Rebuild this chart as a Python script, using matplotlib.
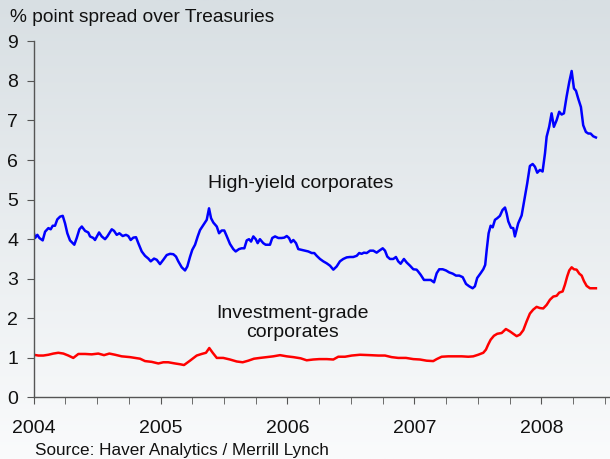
import numpy as np
import matplotlib.pyplot as plt
from matplotlib.ticker import MultipleLocator

plt.rcParams['font.family'] = ['Liberation Sans', 'DejaVu Sans']

base_year = 2004

# high-yield corporates: (years after 2004, % points)
hy_t = [0.000, 0.012, 0.030, 0.046, 0.072, 0.091, 0.117, 0.135, 0.151, 0.169,
        0.187, 0.209, 0.230, 0.248, 0.266, 0.287, 0.321, 0.340, 0.361, 0.380,
        0.406, 0.431, 0.445, 0.471, 0.484, 0.516, 0.537, 0.563, 0.581, 0.616,
        0.634, 0.655, 0.676, 0.702, 0.728, 0.746, 0.765, 0.786, 0.807, 0.825,
        0.852, 0.878, 0.904, 0.923, 0.949, 0.970, 0.996, 1.022, 1.049, 1.075,
        1.101, 1.122, 1.140, 1.167, 1.193, 1.211, 1.232, 1.250, 1.272, 1.293,
        1.311, 1.337, 1.364, 1.382, 1.398, 1.416, 1.443, 1.461, 1.482, 1.502,
        1.521, 1.547, 1.573, 1.592, 1.618, 1.639, 1.660, 1.679, 1.697, 1.713,
        1.731, 1.750, 1.765, 1.783, 1.809, 1.828, 1.862, 1.880, 1.902, 1.928,
        1.954, 1.975, 1.994, 2.012, 2.028, 2.046, 2.067, 2.085, 2.112, 2.138,
        2.164, 2.191, 2.211, 2.230, 2.256, 2.282, 2.309, 2.335, 2.361, 2.387,
        2.413, 2.439, 2.466, 2.492, 2.518, 2.545, 2.565, 2.584, 2.602, 2.624,
        2.650, 2.676, 2.702, 2.723, 2.750, 2.768, 2.786, 2.807, 2.833, 2.854,
        2.872, 2.891, 2.917, 2.939, 2.965, 2.991, 3.017, 3.030, 3.049, 3.075,
        3.101, 3.128, 3.154, 3.175, 3.195, 3.222, 3.248, 3.274, 3.301, 3.327,
        3.353, 3.380, 3.406, 3.431, 3.458, 3.476, 3.494, 3.521, 3.542, 3.557,
        3.569, 3.584, 3.600, 3.616, 3.634, 3.652, 3.673, 3.694, 3.713, 3.726,
        3.739, 3.760, 3.778, 3.791, 3.817, 3.844, 3.870, 3.888, 3.909, 3.931,
        3.949, 3.967, 3.988, 4.009, 4.028, 4.041, 4.061, 4.080, 4.098, 4.120,
        4.140, 4.159, 4.177, 4.198, 4.219, 4.238, 4.256, 4.272, 4.290, 4.311,
        4.329, 4.350, 4.369, 4.387, 4.408, 4.429]
hy_v = [4.19, 4.03, 4.11, 4.03, 3.97, 4.19, 4.28, 4.25, 4.34, 4.34,
        4.50, 4.57, 4.59, 4.40, 4.15, 3.97, 3.86, 4.03, 4.25, 4.32,
        4.21, 4.17, 4.07, 4.03, 3.98, 4.17, 4.07, 4.00, 4.07, 4.25,
        4.21, 4.11, 4.15, 4.08, 4.11, 4.08, 3.98, 4.04, 4.05, 3.90,
        3.69, 3.58, 3.51, 3.44, 3.51, 3.48, 3.37, 3.48, 3.60, 3.63,
        3.62, 3.56, 3.44, 3.29, 3.21, 3.31, 3.55, 3.73, 3.86, 4.07,
        4.23, 4.36, 4.49, 4.78, 4.53, 4.42, 4.32, 4.15, 4.22, 4.22,
        4.08, 3.88, 3.75, 3.69, 3.75, 3.77, 3.77, 3.97, 4.00, 3.94,
        4.07, 4.00, 3.90, 4.00, 3.90, 3.86, 3.86, 4.03, 4.07, 4.03,
        4.03, 4.04, 4.08, 4.03, 3.92, 3.98, 3.90, 3.75, 3.73, 3.71,
        3.69, 3.65, 3.65, 3.58, 3.50, 3.44, 3.39, 3.33, 3.23, 3.31,
        3.44, 3.50, 3.54, 3.55, 3.55, 3.58, 3.65, 3.63, 3.66, 3.65,
        3.71, 3.71, 3.66, 3.71, 3.77, 3.71, 3.56, 3.50, 3.50, 3.55,
        3.44, 3.38, 3.50, 3.41, 3.33, 3.24, 3.23, 3.18, 3.10, 2.97,
        2.97, 2.97, 2.91, 3.14, 3.24, 3.24, 3.21, 3.16, 3.13, 3.08,
        3.08, 3.04, 2.87, 2.81, 2.76, 2.81, 3.02, 3.14, 3.24, 3.35,
        3.73, 4.15, 4.34, 4.30, 4.49, 4.53, 4.59, 4.74, 4.80, 4.65,
        4.45, 4.29, 4.28, 4.07, 4.40, 4.60, 5.08, 5.41, 5.85, 5.90,
        5.83, 5.68, 5.75, 5.71, 6.17, 6.59, 6.84, 7.18, 6.84, 7.01,
        7.22, 7.15, 7.18, 7.60, 7.97, 8.25, 7.81, 7.75, 7.55, 7.34,
        6.88, 6.71, 6.67, 6.67, 6.60, 6.57]

# investment-grade corporates
ig_t = [0.000, 0.038, 0.077, 0.117, 0.156, 0.195, 0.235, 0.274, 0.313, 0.353,
        0.406, 0.458, 0.510, 0.555, 0.597, 0.642, 0.694, 0.760, 0.839, 0.878,
        0.931, 0.983, 1.022, 1.061, 1.114, 1.154, 1.185, 1.232, 1.285, 1.324,
        1.358, 1.384, 1.411, 1.443, 1.494, 1.547, 1.600, 1.647, 1.691, 1.736,
        1.783, 1.836, 1.888, 1.941, 1.994, 2.046, 2.104, 2.151, 2.203, 2.250,
        2.309, 2.361, 2.400, 2.453, 2.506, 2.571, 2.650, 2.715, 2.768, 2.820,
        2.872, 2.933, 2.991, 3.043, 3.096, 3.148, 3.175, 3.214, 3.266, 3.319,
        3.372, 3.424, 3.463, 3.502, 3.542, 3.563, 3.581, 3.600, 3.626, 3.652,
        3.687, 3.720, 3.752, 3.778, 3.805, 3.831, 3.857, 3.883, 3.909, 3.935,
        3.962, 3.988, 4.014, 4.041, 4.067, 4.093, 4.120, 4.140, 4.167, 4.185,
        4.203, 4.219, 4.238, 4.256, 4.277, 4.298, 4.317, 4.335, 4.356, 4.382,
        4.408, 4.429]
ig_v = [1.08, 1.06, 1.06, 1.08, 1.11, 1.13, 1.11, 1.06, 1.00, 1.10,
        1.10, 1.09, 1.11, 1.07, 1.11, 1.08, 1.04, 1.02, 0.98, 0.92,
        0.90, 0.86, 0.89, 0.89, 0.86, 0.84, 0.82, 0.93, 1.06, 1.10,
        1.13, 1.25, 1.13, 1.00, 1.00, 0.96, 0.91, 0.89, 0.93, 0.98,
        1.00, 1.02, 1.04, 1.07, 1.04, 1.02, 0.99, 0.94, 0.96, 0.97,
        0.97, 0.96, 1.03, 1.03, 1.06, 1.08, 1.07, 1.06, 1.06, 1.02,
        1.00, 1.00, 0.97, 0.96, 0.93, 0.92, 0.97, 1.03, 1.04, 1.04,
        1.04, 1.03, 1.04, 1.08, 1.13, 1.21, 1.34, 1.46, 1.56, 1.61,
        1.63, 1.73, 1.67, 1.61, 1.55, 1.59, 1.70, 1.92, 2.12, 2.22,
        2.29, 2.26, 2.25, 2.34, 2.47, 2.55, 2.57, 2.65, 2.68, 2.85,
        3.06, 3.21, 3.29, 3.24, 3.23, 3.13, 3.08, 2.94, 2.82, 2.76,
        2.76, 2.76]

years = [2004, 2005, 2006, 2007, 2008]
yticks = list(range(0, 10))

fig = plt.figure(figsize=(6.1, 4.59), dpi=100)

# gradient background over the whole figure
bg = fig.add_axes([0, 0, 1, 1], zorder=-1)
top = np.array([216, 223, 227]) / 255
bottom = np.array([250, 251, 252]) / 255
grad = np.linspace(0, 1, 256)[:, None, None]
img = top * (1 - grad) + bottom * grad
bg.imshow(np.repeat(img, 2, axis=1), aspect='auto', extent=[0, 1, 0, 1])
bg.axis('off')

ax = fig.add_axes([0.055, 0.134, 0.945, 0.776])
ax.patch.set_alpha(0)

ax.plot(base_year + np.array(hy_t), hy_v, color='#0000ff', lw=1.8)
ax.plot(base_year + np.array(ig_t), ig_v, color='#ff0000', lw=1.8)

ax.set_xlim(2004, 2008.54)
ax.set_ylim(0, 9)
ax.set_xticks(years)
ax.set_xticklabels([str(y) for y in years])
ax.xaxis.set_minor_locator(MultipleLocator(0.25))
ax.set_yticks(yticks)

for side in ['top', 'right']:
    ax.spines[side].set_visible(False)
for side in ['left', 'bottom']:
    ax.spines[side].set_color('#555555')
    ax.spines[side].set_linewidth(1.0)

ax.tick_params(axis='y', direction='out', length=5, color='#555555',
               labelsize=14, pad=6, labelcolor='#111111')
ax.tick_params(axis='x', which='both', direction='out', length=5,
               color='#555555', labelsize=14, pad=11, labelcolor='#111111')

ax.text(2006.10, 5.40, 'High-yield corporates', ha='center', va='center',
        fontsize=14, color='#111111')
ax.text(2006.04, 1.88, 'Investment-grade\ncorporates', ha='center',
        va='center', fontsize=14, color='#111111', linespacing=1.2)

fig.text(0.016, 0.962, '% point spread over Treasuries', ha='left',
         va='center', fontsize=13.8, color='#111111')
fig.text(0.057, 0.019, 'Source: Haver Analytics / Merrill Lynch', ha='left',
         va='center', fontsize=12.3, color='#111111')

fig.savefig('out.png', dpi=100)
